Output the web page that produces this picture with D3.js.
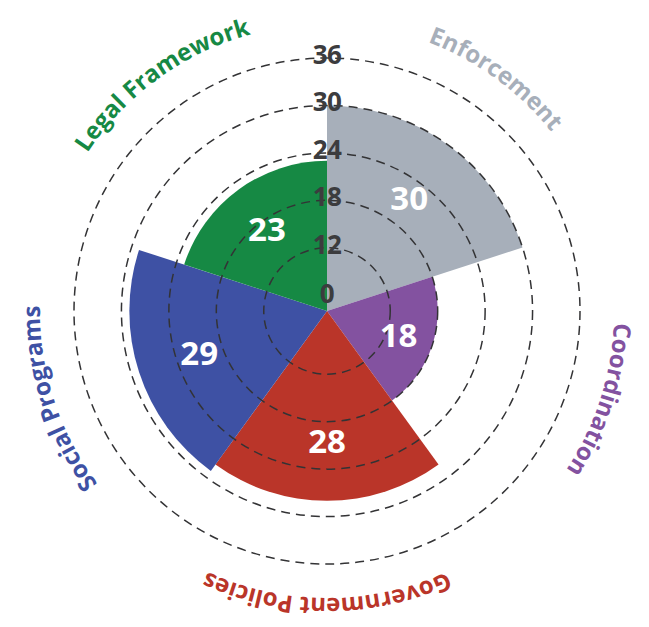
<!DOCTYPE html>
<html>
<head>
<meta charset="utf-8">
<script src="https://cdn.jsdelivr.net/npm/d3@7"></script>
<style>
  html, body { margin: 0; padding: 0; background: #fff; }
  svg { display: block; }
</style>
</head>
<body>
<svg id="chart" width="649" height="627"></svg>
<script>
// Polar area chart: one wedge per policy area
const categories = ["Enforcement", "Coordination", "Government Policies", "Social Programs", "Legal Framework"];
const values = [30, 18, 28, 29, 23];
const colors = ["#a7afba", "#8352a0", "#ba3529", "#3e51a4", "#168944"];
const ringTicks = [12, 18, 24, 30, 36];
const tickLabels = [0, 12, 18, 24, 30, 36];

const width = 649, height = 627;
const cx = 327, cy = 311;
const outerR = 253;
const labelR = 287;

const svg = d3.select("#chart");
const g = svg.append("g").attr("transform", `translate(${cx},${cy})`);

// Angular scale: equal wedges, starting at 12 o'clock, clockwise
const angle = d3.scaleBand()
  .domain(categories)
  .range([0, 2 * Math.PI])
  .padding(0);

// Radial scale
const r = d3.scaleLinear()
  .domain([4, 36])
  .range([0, outerR])
  .clamp(true);

const arc = d3.arc()
  .innerRadius(0)
  .outerRadius(d => r(d.value))
  .startAngle(d => angle(d.cat))
  .endAngle(d => angle(d.cat) + angle.bandwidth());

const data = categories.map((c, i) => ({ cat: c, value: values[i], color: colors[i] }));

// Wedges
g.append("g")
  .selectAll("path")
  .data(data)
  .join("path")
  .attr("d", arc)
  .attr("fill", d => d.color);

// Dashed grid rings
g.append("g")
  .selectAll("circle")
  .data(ringTicks)
  .join("circle")
  .attr("r", d => r(d))
  .attr("fill", "none")
  .attr("stroke", "#333335")
  .attr("stroke-width", 1.5)
  .attr("stroke-dasharray", "9,6");

// Radial tick labels along the vertical axis
g.append("g")
  .selectAll("text")
  .data(tickLabels)
  .join("text")
  .attr("x", 0)
  .attr("y", d => -Math.max(r(d), 14) - 4)
  .attr("text-anchor", "middle")
  .attr("dominant-baseline", "central")
  .attr("font-family", "'Open Sans', sans-serif")
  .attr("font-weight", 700)
  .attr("font-size", 26)
  .attr("letter-spacing", -0.5)
  .attr("fill", "#3c3c3e")
  .text(d => d);

// Value labels inside each wedge
const mid = d => angle(d.cat) + angle.bandwidth() / 2;
g.append("g")
  .selectAll("text")
  .data(data)
  .join("text")
  .attr("x", d => Math.sin(mid(d)) * r(d.value) * 0.68)
  .attr("y", d => -Math.cos(mid(d)) * r(d.value) * 0.68)
  .attr("text-anchor", "middle")
  .attr("dominant-baseline", "central")
  .attr("font-family", "'Open Sans', sans-serif")
  .attr("font-weight", 700)
  .attr("font-size", 33)
  .attr("fill", "#ffffff")
  .text(d => d.value);

// Category names curved along an outer circle (clockwise, tops outward)
const defs = svg.append("defs");
data.forEach((d, i) => {
  const a = mid(d) - Math.PI / 2; // screen angle from +x axis
  const p = d3.path();
  p.moveTo(cx + labelR * Math.cos(a - Math.PI / 2), cy + labelR * Math.sin(a - Math.PI / 2));
  p.arc(cx, cy, labelR, a - Math.PI / 2, a + Math.PI / 2, false);
  defs.append("path").attr("id", "cat-path-" + i).attr("d", p.toString());
});

svg.append("g")
  .selectAll("text")
  .data(data)
  .join("text")
  .attr("font-family", "'Open Sans', sans-serif")
  .attr("font-weight", 700)
  .attr("font-size", 24)
  .attr("fill", d => d.color)
  .append("textPath")
  .attr("href", (d, i) => "#cat-path-" + i)
  .attr("startOffset", "50%")
  .attr("text-anchor", "middle")
  .text(d => d.cat);
</script>
</body>
</html>
